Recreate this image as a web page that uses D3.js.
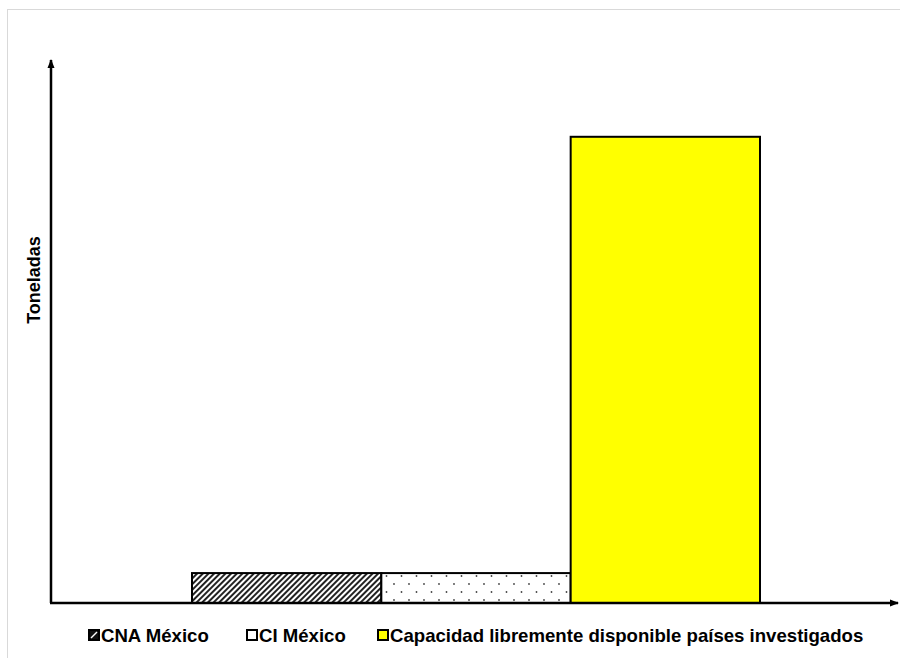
<!DOCTYPE html>
<html>
<head>
<meta charset="utf-8">
<script src="https://cdn.jsdelivr.net/npm/d3@7"></script>
<style>
  body { margin: 0; background: #fff; }
  text { font-family: "Liberation Sans", Arial, sans-serif; font-weight: bold; fill: #000; }
</style>
</head>
<body>
<div class="chart"></div>
<script>
const categories = ["CNA México", "CI México", "Capacidad libremente disponible países investigados"];
const values = [5.5, 5.5, 85.7];
const fills = ["url(#hatch)", "url(#dots)", "#ffff00"];
const yTitle = "Toneladas";

const width = 900, height = 658;
const origin = { x: 51, y: 603 };

const svg = d3.select(".chart")
    .append("svg")
    .attr("width", width)
    .attr("height", height);

const defs = svg.append("defs");

// diagonal hatch for CNA
const hatch = defs.append("pattern")
    .attr("id", "hatch")
    .attr("patternUnits", "userSpaceOnUse")
    .attr("width", 4)
    .attr("height", 4)
    .attr("patternTransform", "rotate(45)");
hatch.append("rect").attr("width", 4).attr("height", 4).attr("fill", "#fff");
hatch.append("rect").attr("width", 2).attr("height", 4).attr("fill", "#222");

// sparse dots for CI
const dots = defs.append("pattern")
    .attr("id", "dots")
    .attr("patternUnits", "userSpaceOnUse")
    .attr("x", 383)
    .attr("y", 572)
    .attr("width", 15)
    .attr("height", 16);
dots.append("rect").attr("width", 15).attr("height", 16).attr("fill", "#fff");
dots.append("circle").attr("cx", 3.5).attr("cy", 4).attr("r", 0.9).attr("fill", "#444");
dots.append("circle").attr("cx", 11).attr("cy", 12).attr("r", 0.9).attr("fill", "#444");

// arrowhead
defs.append("marker")
    .attr("id", "arrow")
    .attr("markerWidth", 10)
    .attr("markerHeight", 10)
    .attr("refX", 8)
    .attr("refY", 5)
    .attr("markerUnits", "userSpaceOnUse")
    .attr("orient", "auto-start-reverse")
    .append("path")
    .attr("d", "M0,1.5 L9,5 L0,8.5 Z")
    .attr("fill", "#000");

// outer frame
svg.append("rect")
    .attr("x", 7.5)
    .attr("y", 9.5)
    .attr("width", 900)
    .attr("height", 660)
    .attr("fill", "none")
    .attr("stroke", "#d9d9d9");

const x = d3.scaleBand()
    .domain(categories)
    .range([192, 760])
    .padding(0);

const y = d3.scaleLinear()
    .domain([0, 100])
    .range([origin.y, 59]);

svg.selectAll("rect.bar")
    .data(categories)
    .enter()
    .append("rect")
    .attr("class", "bar")
    .attr("x", d => x(d))
    .attr("y", (d, i) => y(values[i]))
    .attr("width", x.bandwidth())
    .attr("height", (d, i) => y(0) - y(values[i]))
    .attr("fill", (d, i) => fills[i])
    .attr("stroke", "#000")
    .attr("stroke-width", 2);

// axes with arrows
svg.append("line")
    .attr("x1", origin.x).attr("y1", origin.y)
    .attr("x2", origin.x).attr("y2", 60)
    .attr("stroke", "#000").attr("stroke-width", 2.5)
    .attr("marker-end", "url(#arrow)");

svg.append("line")
    .attr("x1", origin.x - 1).attr("y1", origin.y)
    .attr("x2", 898).attr("y2", origin.y)
    .attr("stroke", "#000").attr("stroke-width", 2.5)
    .attr("marker-end", "url(#arrow)");

// y title
svg.append("text")
    .attr("transform", "translate(40,280) rotate(-90)")
    .attr("text-anchor", "middle")
    .style("font-size", "18px")
    .text(yTitle);

// legend
const legendX = [88, 246, 377];
const legend = svg.selectAll("g.legend")
    .data(categories)
    .enter()
    .append("g")
    .attr("class", "legend")
    .attr("transform", (d, i) => "translate(" + legendX[i] + ",629)");

legend.append("rect")
    .attr("x", 1).attr("y", 1)
    .attr("width", 10).attr("height", 10)
    .attr("fill", (d, i) => i === 0 ? "#111" : (i === 1 ? "#fff" : "#ffff00"))
    .attr("stroke", "#000")
    .attr("stroke-width", 2);

legend.filter((d, i) => i === 0)
    .append("line")
    .attr("x1", 3).attr("y1", 9).attr("x2", 9).attr("y2", 3)
    .attr("stroke", "#fff").attr("stroke-width", 1.5);

legend.append("text")
    .attr("x", 13)
    .attr("y", 12.5)
    .style("font-size", "18.6px")
    .text(d => d);
</script>
</body>
</html>
